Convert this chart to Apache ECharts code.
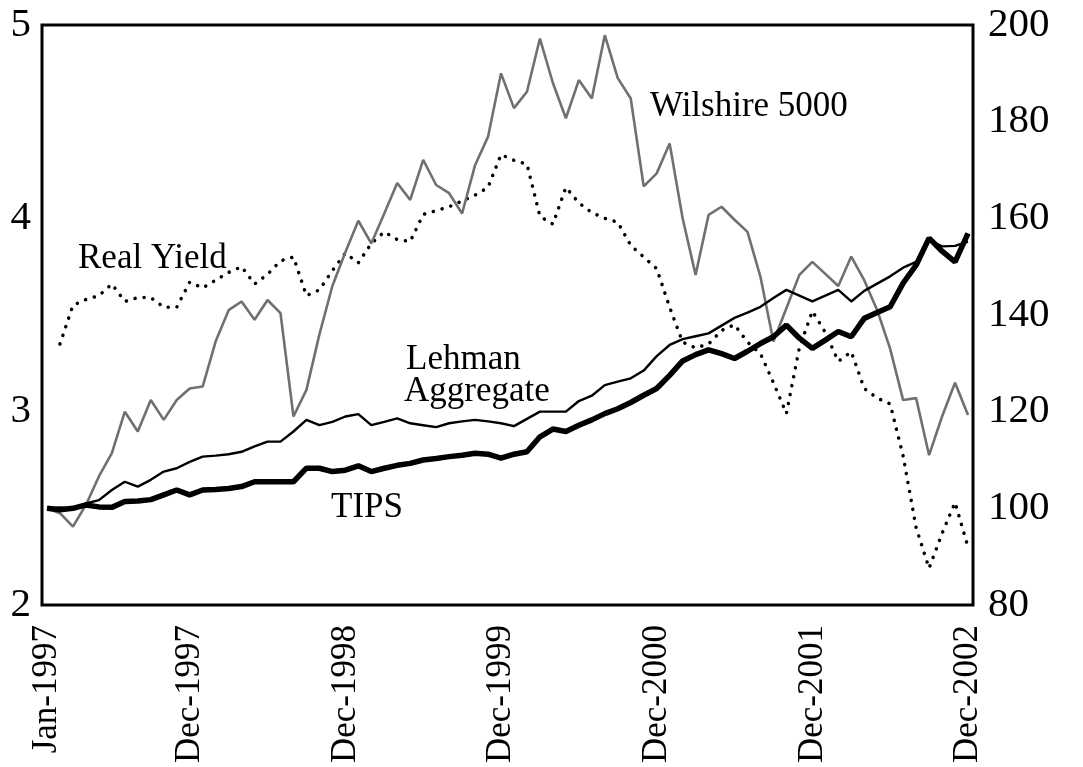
<!DOCTYPE html>
<html>
<head>
<meta charset="utf-8">
<title>TIPS vs Lehman vs Wilshire</title>
<script src="https://cdn.jsdelivr.net/npm/echarts@6/dist/echarts.min.js"></script>
<style>
  html, body { margin: 0; padding: 0; background: #fff; }
</style>
</head>
<body>
<div id="main" style="width: 1083px; height: 767px;"></div>
<script type="text/javascript">
// month axis
var monthNames = ['Jan', 'Feb', 'Mar', 'Apr', 'May', 'Jun', 'Jul', 'Aug', 'Sep', 'Oct', 'Nov', 'Dec'];
var years = [1997, 1998, 1999, 2000, 2001, 2002];
var labelIndices = [0, 11, 23, 35, 47, 59, 71];

// left axis (percent)
var realYield = [null, 3.35, 3.55, 3.58, 3.60, 3.66, 3.57, 3.59, 3.59, 3.54, 3.54, 3.67,
    3.64, 3.68, 3.72, 3.75, 3.66, 3.71, 3.78, 3.80, 3.60, 3.63, 3.73, 3.82,
    3.77, 3.87, 3.93, 3.89, 3.88, 4.02, 4.04, 4.06, 4.09, 4.12, 4.16, 4.33,
    4.30, 4.28, 4.01, 3.97, 4.16, 4.08, 4.03, 4.00, 3.98, 3.86, 3.80, 3.74,
    3.54, 3.36, 3.33, 3.35, 3.42, 3.45, 3.36, 3.30, 3.15, 2.99, 3.33, 3.52,
    3.41, 3.26, 3.31, 3.12, 3.07, 3.04, 2.77, 2.40, 2.19, 2.37, 2.53, 2.30];

// right axis (index, Jan-1997 = 100)
var wilshire = [100, 99, 96.2, 100.7, 106.6, 111.4, 120.0, 115.9, 122.4, 118.3, 122.4, 124.8,
    125.2, 134.5, 141.0, 142.8, 139.0, 143.1, 140.4, 119.0, 124.5, 136, 146, 153,
    159.5, 154.8, 161.0, 167.3, 163.8, 172.1, 166.9, 165.2, 161.0, 171.0, 176.9, 190.0,
    182.8, 186.2, 197.2, 188.0, 180.7, 188.6, 184.8, 197.9, 189.0, 184.8, 166.6, 169.3,
    175.5, 160, 148.3, 160.7, 162.4, 159.7, 157.2, 147.9, 134.5, 141.4, 148.3, 151.0,
    148.5, 146, 152.1, 147.2, 141, 133, 122.4, 122.8, 111, 119, 126, 119.3];

var lehman = [100, 100.2, 99.9, 101.0, 101.7, 103.8, 105.5, 104.5, 105.9, 107.6, 108.3, 109.6,
    110.7, 110.9, 111.2, 111.7, 112.8, 113.8, 113.8, 115.9, 118.3, 117.2, 117.9, 119.0,
    119.5, 117.2, 117.9, 118.6, 117.6, 117.2, 116.8, 117.6, 118.0, 118.3, 118.0, 117.6,
    117.0, 118.5, 120.0, 120.0, 120.0, 122.2, 123.3, 125.5, 126.2, 126.9, 128.5, 131.5,
    133.8, 135.0, 135.6, 136.2, 137.8, 139.4, 140.5, 141.7, 143.5, 145.2, 144.0, 142.8,
    144.0, 145.2, 142.8, 145.0, 146.5, 148.0, 149.8, 151.0, 155.5, 154.2, 154.3, 155.2];

var tips = [100, 99.7, 100, 100.7, 100.3, 100.2, 101.4, 101.5, 101.8, 102.8, 103.8, 102.8,
    103.8, 103.9, 104.1, 104.5, 105.5, 105.5, 105.5, 105.5, 108.3, 108.3, 107.6, 107.9,
    108.8, 107.6, 108.3, 108.9, 109.3, 110.0, 110.3, 110.7, 111.0, 111.4, 111.2, 110.4,
    111.2, 111.7, 114.8, 116.4, 115.9, 117.2, 118.3, 119.6, 120.6, 121.9, 123.4, 124.8,
    127.5, 130.5, 131.8, 132.8, 132.0, 131.0, 132.5, 134.1, 135.5, 137.9, 135.2, 133.1,
    134.8, 136.6, 135.5, 139.3, 140.5, 141.7, 146.6, 150.3, 155.9, 153.2, 151.0, 156.9];

var categories = [];
years.forEach(function (y) {
    monthNames.forEach(function (m) {
        categories.push(m + '-' + y);
    });
});

var serif = "'Liberation Serif', 'Times New Roman', 'DejaVu Serif', serif";
var myChart = echarts.init(document.getElementById('main'));

function note(text, x, y) {
    return {
        type: 'text', x: x, y: y, z: 100,
        style: { text: text, fill: '#000', font: '35px ' + serif, verticalAlign: 'middle' }
    };
}

var option = {
    animation: false,
    backgroundColor: '#fff',
    grid: [
        { left: 47, right: 115, top: 25, bottom: 162 },
        { left: 42, right: 110, top: 25, bottom: 162, show: true,
          borderColor: '#000', borderWidth: 3, backgroundColor: 'transparent' }
    ],
    xAxis: [{
        type: 'category',
        data: categories,
        boundaryGap: false,
        axisLine: { show: false },
        axisTick: { show: false },
        splitLine: { show: false },
        axisLabel: {
            rotate: 90,
            margin: 20,
            color: '#000',
            fontSize: 35,
            fontFamily: serif,
            interval: function (idx) { return labelIndices.indexOf(idx) >= 0; }
        }
    }, {
        gridIndex: 1, type: 'value', show: false
    }],
    yAxis: [{
        type: 'value',
        min: 2, max: 5, interval: 1,
        position: 'left',
        axisLine: { show: false },
        axisTick: { show: false },
        splitLine: { show: false },
        axisLabel: { color: '#000', fontSize: 41, fontFamily: serif, margin: 16 }
    }, {
        type: 'value',
        min: 80, max: 200, interval: 20,
        position: 'right',
        axisLine: { show: false },
        axisTick: { show: false },
        splitLine: { show: false },
        axisLabel: { color: '#000', fontSize: 41, fontFamily: serif, margin: 20 }
    }, {
        gridIndex: 1, type: 'value', show: false
    }],
    series: [{
        name: 'Real Yield',
        type: 'line',
        yAxisIndex: 0,
        data: realYield,
        showSymbol: false,
        lineStyle: { color: '#000', width: 3.5, type: [0.1, 9], cap: 'round' }
    }, {
        name: 'Wilshire 5000',
        type: 'line',
        yAxisIndex: 1,
        data: wilshire,
        showSymbol: false,
        lineStyle: { color: '#707070', width: 2.6 }
    }, {
        name: 'Lehman Aggregate',
        type: 'line',
        yAxisIndex: 1,
        data: lehman,
        showSymbol: false,
        lineStyle: { color: '#000', width: 2.4 }
    }, {
        name: 'TIPS',
        type: 'line',
        yAxisIndex: 1,
        data: tips,
        showSymbol: false,
        lineStyle: { color: '#000', width: 5.5 }
    }],
    graphic: [
        note('Wilshire 5000', 650, 107),
        note('Real Yield', 78, 259),
        note('Lehman', 406, 360),
        note('Aggregate', 404, 392),
        note('TIPS', 331, 508)
    ]
};

myChart.setOption(option);
</script>
</body>
</html>
